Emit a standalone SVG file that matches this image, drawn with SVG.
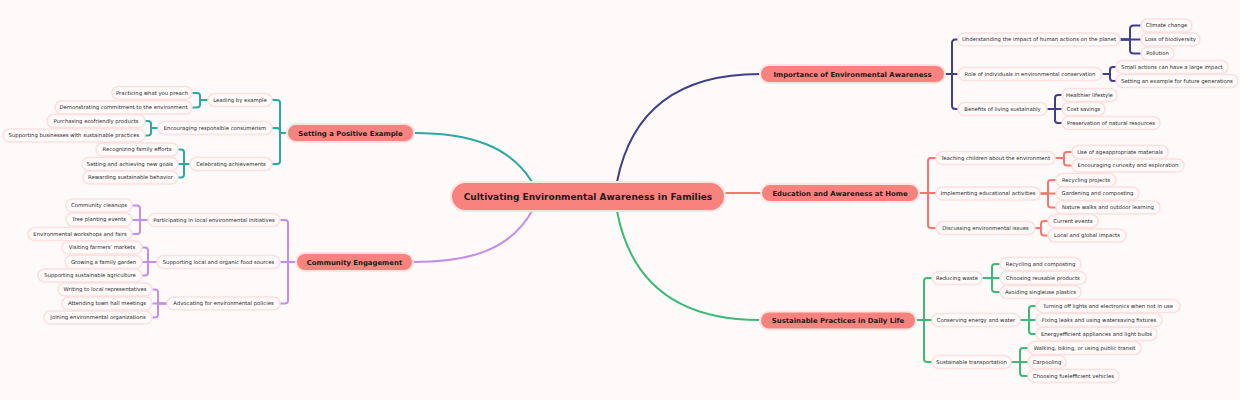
<svg xmlns="http://www.w3.org/2000/svg" width="1240" height="400" viewBox="0 0 1240 400">
<style>
.bg{fill:#fefafa}
.c path{fill:none;stroke-width:2;stroke-linecap:round;stroke-linejoin:round}
.blue{stroke:#3f3f8c}.coral{stroke:#f7766f}.green{stroke:#3dba78}.teal{stroke:#2aaaa0}.purple{stroke:#c48de6}
.n rect{fill:#fffafa;stroke:#fde0e0;stroke-width:1.5}
.n text{font-family:"DejaVu Sans",sans-serif;font-size:5.3px;fill:#2a2a2a;text-anchor:middle}
.m rect{fill:#f8837e;stroke:#ffe3e3;stroke-width:2}
.m text{font-family:"DejaVu Sans",sans-serif;font-size:6.9px;font-weight:bold;fill:#1a1a1a;text-anchor:middle}
.r text{font-size:9px}
</style>
<rect class="bg" x="0" y="0" width="1240" height="400"/>
<g id="connectors" class="c">
<path class="blue" d="M617,182 C632,105 685,74 760,74"/>
<path class="coral" d="M725,193 H761"/>
<path class="green" d="M617,211 C632,290 685,320 760,320"/>
<path class="teal" d="M532,182 C510,146 470,133 414,133"/>
<path class="purple" d="M532,211 C510,250 470,262 413,262"/>
<g class="blue">
<path d="M945,74 H952 V43 Q952,39.5 955.5,39.5 H958"/>
<path d="M945,74 H958"/>
<path d="M945,74 H952 V105.5 Q952,109 955.5,109 H958"/>
<path d="M1120,39.5 H1130 V29 Q1130,25.5 1133.5,25.5 H1141"/>
<path d="M1120,39.5 H1141"/>
<path d="M1120,39.5 H1130 V50 Q1130,53.5 1133.5,53.5 H1141"/>
<path d="M1102,74 H1110 V70 Q1110,67 1113,67 H1116"/>
<path d="M1102,74 H1110 V78 Q1110,81 1113,81 H1116"/>
<path d="M1047,109 H1055 V98 Q1055,95 1058,95 H1062"/>
<path d="M1047,109 H1062"/>
<path d="M1047,109 H1055 V120 Q1055,123 1058,123 H1062"/>
</g>
<g class="coral">
<path d="M919,193 H928 V161 Q928,158 931,158 H936"/>
<path d="M919,193 H936"/>
<path d="M919,193 H928 V225 Q928,228 931,228 H936"/>
<path d="M1055,158 H1064 V155 Q1064,152 1067,152 H1072"/>
<path d="M1055,158 H1064 V162.5 Q1064,165.5 1067,165.5 H1072"/>
<path d="M1040,193.5 H1048 V183 Q1048,180 1051,180 H1056"/>
<path d="M1040,193.5 H1056"/>
<path d="M1040,193.5 H1048 V204.5 Q1048,207.5 1051,207.5 H1056"/>
<path d="M1035,228 H1041 V224 Q1041,221 1044,221 H1048"/>
<path d="M1035,228 H1041 V232.5 Q1041,235.5 1044,235.5 H1048"/>
</g>
<g class="green">
<path d="M916,320 H924 V281 Q924,278 927,278 H932"/>
<path d="M916,320 H932"/>
<path d="M916,320 H924 V359 Q924,362 927,362 H932"/>
<path d="M982,278 H992 V267 Q992,264 995,264 H1000"/>
<path d="M982,278 H1000"/>
<path d="M982,278 H992 V289 Q992,292 995,292 H1000"/>
<path d="M1020,320 H1029 V309 Q1029,306 1032,306 H1036"/>
<path d="M1020,320 H1036"/>
<path d="M1020,320 H1029 V331 Q1029,334 1032,334 H1036"/>
<path d="M1011,362 H1020 V351 Q1020,348 1023,348 H1028"/>
<path d="M1011,362 H1028"/>
<path d="M1011,362 H1020 V373 Q1020,376 1023,376 H1028"/>
</g>
<g class="teal">
<path d="M287,133 H280 V103 Q280,100 277,100 H272"/>
<path d="M287,133 H280 V131 Q280,128 277,128 H272"/>
<path d="M287,133 H280 V161 Q280,164 277,164 H272"/>
<path d="M208,100 H200 V96 Q200,93 197,93 H192"/>
<path d="M208,100 H200 V104.5 Q200,107.5 197,107.5 H192"/>
<path d="M158,128 H151 V124 Q151,121 148,121 H145"/>
<path d="M158,128 H151 V132.5 Q151,135.5 148,135.5 H145"/>
<path d="M190,164 H184 V152.5 Q184,149.5 181,149.5 H178"/>
<path d="M190,164 H178"/>
<path d="M190,164 H184 V174.5 Q184,177.5 181,177.5 H178"/>
</g>
<g class="purple">
<path d="M296,262 H288 V223 Q288,220 285,220 H280"/>
<path d="M296,262 H280"/>
<path d="M296,262 H288 V300.5 Q288,303.5 285,303.5 H280"/>
<path d="M148,220 H140 V208.5 Q140,205.5 137,205.5 H132"/>
<path d="M148,220 H132"/>
<path d="M148,220 H140 V231 Q140,234 137,234 H132"/>
<path d="M157,262 H148 V250.5 Q148,247.5 145,247.5 H142"/>
<path d="M157,262 H142"/>
<path d="M157,262 H148 V272.5 Q148,275.5 145,275.5 H142"/>
<path d="M167,303.5 H158 V292.5 Q158,289.5 155,289.5 H152"/>
<path d="M167,303.5 H152"/>
<path d="M167,303.5 H158 V314.5 Q158,317.5 155,317.5 H152"/>
</g>
</g>

<g id="root" class="m r"><rect x="451" y="182" width="274" height="29" rx="14.5"/><text x="588" y="199.8">Cultivating Environmental Awareness in Families</text></g>

<g id="importance" class="m"><rect x="760" y="65" width="185" height="18" rx="9"/><text x="852.5" y="76.5">Importance of Environmental Awareness</text></g>
<g id="education" class="m"><rect x="761" y="184" width="158" height="18" rx="9"/><text x="840" y="195.5">Education and Awareness at Home</text></g>
<g id="sustainable" class="m"><rect x="760" y="311.5" width="156" height="18" rx="9"/><text x="838" y="323">Sustainable Practices in Daily Life</text></g>
<g id="setting" class="m"><rect x="287" y="124" width="127" height="18" rx="9"/><text x="350.5" y="135.5">Setting a Positive Example</text></g>
<g id="community" class="m"><rect x="296" y="253" width="117" height="18" rx="9"/><text x="354.5" y="264.5">Community Engagement</text></g>

<g id="understanding" class="n"><rect x="958" y="33" width="162" height="13" rx="6.5"/><text x="1039" y="41.4">Understanding the impact of human actions on the planet</text></g>
<g id="role" class="n"><rect x="958" y="67.5" width="144" height="13" rx="6.5"/><text x="1030" y="75.9">Role of individuals in environmental conservation</text></g>
<g id="benefits" class="n"><rect x="958" y="102.5" width="89" height="13" rx="6.5"/><text x="1002.5" y="110.9">Benefits of living sustainably</text></g>
<g id="climate" class="n"><rect x="1141" y="19" width="51" height="13" rx="6.5"/><text x="1166.5" y="27.4">Climate change</text></g>
<g id="biodiversity" class="n"><rect x="1141" y="33" width="59" height="13" rx="6.5"/><text x="1170.5" y="41.4">Loss of biodiversity</text></g>
<g id="pollution" class="n"><rect x="1141" y="47" width="33" height="13" rx="6.5"/><text x="1157.5" y="55.4">Pollution</text></g>
<g id="small-actions" class="n"><rect x="1116" y="60.5" width="112" height="13" rx="6.5"/><text x="1172" y="68.9">Small actions can have a large impact</text></g>
<g id="future-gen" class="n"><rect x="1116" y="74.5" width="122" height="13" rx="6.5"/><text x="1177" y="82.9">Setting an example for future generations</text></g>
<g id="healthier" class="n"><rect x="1062" y="88.5" width="55" height="13" rx="6.5"/><text x="1089.5" y="96.9">Healthier lifestyle</text></g>
<g id="cost" class="n"><rect x="1062" y="102.5" width="43" height="13" rx="6.5"/><text x="1083.5" y="110.9">Cost savings</text></g>
<g id="preservation" class="n"><rect x="1062" y="116.5" width="98" height="13" rx="6.5"/><text x="1111" y="124.9">Preservation of natural resources</text></g>

<g id="teaching" class="n"><rect x="936" y="151.5" width="119" height="13" rx="6.5"/><text x="995.5" y="159.9">Teaching children about the environment</text></g>
<g id="implementing" class="n"><rect x="936" y="187" width="104" height="13" rx="6.5"/><text x="988" y="195.4">Implementing educational activities</text></g>
<g id="discussing" class="n"><rect x="936" y="221.5" width="99" height="13" rx="6.5"/><text x="985.5" y="229.9">Discussing environmental issues</text></g>
<g id="age-materials" class="n"><rect x="1072" y="145.5" width="96" height="13" rx="6.5"/><text x="1120" y="153.9">Use of ageappropriate materials</text></g>
<g id="curiosity" class="n"><rect x="1072" y="159" width="112" height="13" rx="6.5"/><text x="1128" y="167.4">Encouraging curiosity and exploration</text></g>
<g id="recycling-projects" class="n"><rect x="1056" y="173.5" width="60" height="13" rx="6.5"/><text x="1086" y="181.9">Recycling projects</text></g>
<g id="gardening" class="n"><rect x="1056" y="187" width="83" height="13" rx="6.5"/><text x="1097.5" y="195.4">Gardening and composting</text></g>
<g id="nature-walks" class="n"><rect x="1056" y="201" width="104" height="13" rx="6.5"/><text x="1108" y="209.4">Nature walks and outdoor learning</text></g>
<g id="current-events" class="n"><rect x="1048" y="214.5" width="50" height="13" rx="6.5"/><text x="1073" y="222.9">Current events</text></g>
<g id="local-global" class="n"><rect x="1048" y="229" width="78" height="13" rx="6.5"/><text x="1087" y="237.4">Local and global impacts</text></g>

<g id="reducing" class="n"><rect x="932" y="271.5" width="50" height="13" rx="6.5"/><text x="957" y="279.9">Reducing waste</text></g>
<g id="conserving" class="n"><rect x="932" y="313.5" width="88" height="13" rx="6.5"/><text x="976" y="321.9">Conserving energy and water</text></g>
<g id="transport" class="n"><rect x="932" y="355.5" width="79" height="13" rx="6.5"/><text x="971.5" y="363.9">Sustainable transportation</text></g>
<g id="recycling-composting" class="n"><rect x="1000" y="257.5" width="81" height="13" rx="6.5"/><text x="1040.5" y="265.9">Recycling and composting</text></g>
<g id="reusable" class="n"><rect x="1000" y="271.5" width="86" height="13" rx="6.5"/><text x="1043" y="279.9">Choosing reusable products</text></g>
<g id="singleuse" class="n"><rect x="1000" y="285.5" width="81" height="13" rx="6.5"/><text x="1040.5" y="293.9">Avoiding singleuse plastics</text></g>
<g id="lights" class="n"><rect x="1036" y="299.5" width="144" height="13" rx="6.5"/><text x="1108" y="307.9">Turning off lights and electronics when not in use</text></g>
<g id="leaks" class="n"><rect x="1036" y="313.5" width="126" height="13" rx="6.5"/><text x="1099" y="321.9">Fixing leaks and using watersaving fixtures</text></g>
<g id="appliances" class="n"><rect x="1036" y="327.5" width="121" height="13" rx="6.5"/><text x="1096.5" y="335.9">Energyefficient appliances and light bulbs</text></g>
<g id="walking" class="n"><rect x="1028" y="341.5" width="113" height="13" rx="6.5"/><text x="1084.5" y="349.9">Walking, biking, or using public transit</text></g>
<g id="carpooling" class="n"><rect x="1028" y="355.5" width="38" height="13" rx="6.5"/><text x="1047" y="363.9">Carpooling</text></g>
<g id="fuel" class="n"><rect x="1028" y="369.5" width="91" height="13" rx="6.5"/><text x="1073.5" y="377.9">Choosing fuelefficient vehicles</text></g>

<g id="leading" class="n"><rect x="208" y="93.5" width="64" height="13" rx="6.5"/><text x="240" y="101.9">Leading by example</text></g>
<g id="consumerism" class="n"><rect x="158" y="121.5" width="114" height="13" rx="6.5"/><text x="215" y="129.9">Encouraging responsible consumerism</text></g>
<g id="celebrating" class="n"><rect x="190" y="157.5" width="82" height="13" rx="6.5"/><text x="231" y="165.9">Celebrating achievements</text></g>
<g id="practicing" class="n"><rect x="112" y="86.5" width="80" height="13" rx="6.5"/><text x="152" y="94.9">Practicing what you preach</text></g>
<g id="demonstrating" class="n"><rect x="55" y="101" width="137" height="13" rx="6.5"/><text x="123.5" y="109.4">Demonstrating commitment to the environment</text></g>
<g id="purchasing" class="n"><rect x="47" y="114.5" width="98" height="13" rx="6.5"/><text x="96" y="122.9">Purchasing ecofriendly products</text></g>
<g id="businesses" class="n"><rect x="3" y="129" width="142" height="13" rx="6.5"/><text x="74" y="137.4">Supporting businesses with sustainable practices</text></g>
<g id="recognizing" class="n"><rect x="96" y="143" width="82" height="13" rx="6.5"/><text x="137" y="151.4">Recognizing family efforts</text></g>
<g id="goals" class="n"><rect x="82" y="157.5" width="96" height="13" rx="6.5"/><text x="130" y="165.9">Setting and achieving new goals</text></g>
<g id="rewarding" class="n"><rect x="83" y="171" width="95" height="13" rx="6.5"/><text x="130.5" y="179.4">Rewarding sustainable behavior</text></g>

<g id="participating" class="n"><rect x="148" y="213.5" width="132" height="13" rx="6.5"/><text x="214" y="221.9">Participating in local environmental initiatives</text></g>
<g id="food-sources" class="n"><rect x="157" y="255.5" width="123" height="13" rx="6.5"/><text x="218.5" y="263.9">Supporting local and organic food sources</text></g>
<g id="advocating" class="n"><rect x="167" y="297" width="113" height="13" rx="6.5"/><text x="223.5" y="305.4">Advocating for environmental policies</text></g>
<g id="cleanups" class="n"><rect x="66" y="199" width="66" height="13" rx="6.5"/><text x="99" y="207.4">Community cleanups</text></g>
<g id="tree-planting" class="n"><rect x="66" y="213" width="66" height="13" rx="6.5"/><text x="99" y="221.4">Tree planting events</text></g>
<g id="workshops" class="n"><rect x="28" y="227.5" width="104" height="13" rx="6.5"/><text x="80" y="235.9">Environmental workshops and fairs</text></g>
<g id="farmers" class="n"><rect x="62" y="241" width="80" height="13" rx="6.5"/><text x="102" y="249.4">Visiting farmers' markets</text></g>
<g id="garden" class="n"><rect x="65" y="255.5" width="77" height="13" rx="6.5"/><text x="103.5" y="263.9">Growing a family garden</text></g>
<g id="agriculture" class="n"><rect x="38" y="269" width="104" height="13" rx="6.5"/><text x="90" y="277.4">Supporting sustainable agriculture</text></g>
<g id="writing" class="n"><rect x="58" y="283" width="94" height="13" rx="6.5"/><text x="105" y="291.4">Writing to local representatives</text></g>
<g id="town-hall" class="n"><rect x="62" y="297" width="90" height="13" rx="6.5"/><text x="107" y="305.4">Attending town hall meetings</text></g>
<g id="organizations" class="n"><rect x="44" y="311" width="108" height="13" rx="6.5"/><text x="98" y="319.4">Joining environmental organizations</text></g>
</svg>
